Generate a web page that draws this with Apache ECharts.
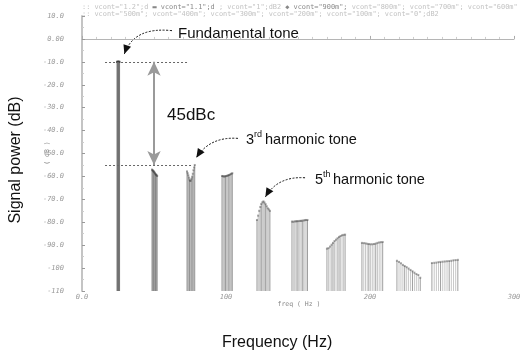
<!DOCTYPE html>
<html><head><meta charset="utf-8">
<script src="https://cdn.jsdelivr.net/npm/echarts@6/dist/echarts.min.js"></script>
<style>html,body{margin:0;padding:0;background:#fff}#c{width:521px;height:357px}</style>
</head><body><div id="c"></div>
<script>
// Traces ordered by fundamental frequency (left to right inside each cluster)
const traceNames = ['0','100m','200m','300m','400m','500m','600m','700m','800m','900m','1','1.1','1.2'];
const fundamentalHz = [24.30, 24.46, 24.61, 24.76, 24.90, 25.05, 25.20, 25.35, 25.50, 25.65, 25.80, 25.95, 26.10];
const harmonicOrder = [1, 2, 3, 4, 5, 6, 7, 8, 9, 10];
// Peak level (dB) of each harmonic, one value per trace
const harm1Db  = [-10.0,-10.0,-10.0,-10.0,-10.0,-10.0,-10.0,-10.0,-10.0,-10.0,-10.0,-10.0,-10.0];
const harm2Db  = [-57.0,-57.3,-57.4,-57.7,-57.9,-58.0,-58.4,-58.6,-59.0,-59.2,-59.3,-59.6,-59.8];
const harm3Db  = [-57.8,-58.6,-59.5,-60.5,-61.4,-62.0,-61.8,-61.0,-60.1,-58.8,-57.3,-56.1,-55.0];
const harm4Db  = [-59.8,-59.9,-60.0,-60.0,-59.9,-59.8,-59.7,-59.6,-59.4,-59.3,-59.0,-58.8,-58.6];
const harm5Db  = [-79.0,-77.1,-75.0,-73.3,-72.0,-71.3,-70.9,-71.4,-72.1,-73.0,-73.9,-74.4,-75.0];
const harm6Db  = [-79.7,-79.8,-79.6,-79.6,-79.5,-79.5,-79.4,-79.4,-79.3,-79.2,-79.1,-79.0,-79.0];
const harm7Db  = [-91.5,-91.3,-90.6,-89.8,-89.0,-88.2,-87.6,-87.0,-86.4,-86.0,-85.7,-85.5,-85.4];
const harm8Db  = [-89.0,-89.1,-89.2,-89.4,-89.5,-89.6,-89.6,-89.5,-89.3,-89.0,-88.8,-88.7,-88.6];
const harm9Db  = [-96.8,-97.3,-97.9,-98.6,-99.1,-99.6,-100.2,-100.8,-101.4,-102.0,-102.6,-103.0,-104.2];
const harm10Db = [-97.8,-97.7,-97.6,-97.4,-97.3,-97.2,-97.1,-97.0,-96.9,-96.8,-96.6,-96.5,-96.4];
const harmonicsDb = [harm1Db, harm2Db, harm3Db, harm4Db, harm5Db, harm6Db, harm7Db, harm8Db, harm9Db, harm10Db];

const yMin = -110, yMax = 10, xMin = 0, xMax = 300;

// Annotation arrows in data coordinates: [start, control, end] as [Hz, dB]
const curvedArrows = [
  [[62.5, 3.6], [36.0, 5.4], [29.4, -6.6]],
  [[108.3, -43.4], [89.0, -42.5], [79.4, -51.8]],
  [[154.9, -60.6], [136.0, -59.8], [127.3, -69.0]]
];

const chart = echarts.init(document.getElementById('c'), null, {renderer: 'canvas'});

const traceSeries = traceNames.map((name, i) => ({
  type: 'custom',
  name: 'vcont=' + name,
  silent: true,
  animation: false,
  data: harmonicOrder.map((k, hi) => [k * fundamentalHz[i], harmonicsDb[hi][i]]),
  renderItem: function (params, api) {
    const top = api.coord([api.value(0), api.value(1)]);
    const bot = api.coord([api.value(0), yMin]);
    const dark = (i % 4 === 0);
    return {type: 'group', children: [
      {type: 'line', shape: {x1: top[0], y1: top[1], x2: bot[0], y2: bot[1]},
        style: {stroke: dark ? 'rgba(80,80,80,0.55)' : 'rgba(110,110,110,0.38)', lineWidth: 1}},
      {type: 'rect', shape: {x: top[0] - 1, y: top[1] - 1, width: 2, height: 2},
        style: {fill: 'rgba(60,60,60,0.45)'}}
    ]};
  }
}));

const annotationSeries = [
  { type: 'line', data: [], silent: true, animation: false,
    markLine: { silent: true, animation: false, symbol: ['none', 'none'],
      label: {show: false},
      lineStyle: {type: [2, 2], color: '#666', width: 1},
      data: [
        [{coord: [16, -10]}, {coord: [73, -10]}],
        [{coord: [16, -55]}, {coord: [76, -55]}]
      ]}},
  { type: 'line', data: [], silent: true, animation: false,
    markLine: { silent: true, animation: false, symbol: ['arrow', 'arrow'], symbolSize: [10, 14],
      label: {show: false},
      lineStyle: {type: 'solid', color: '#9a9a9a', width: 2},
      data: [ [{coord: [50, -10]}, {coord: [50, -55]}] ]}}
];

const txt = (x, y, s, size, extra) => Object.assign({
  type: 'text', x: x, y: y, silent: true,
  style: Object.assign({text: s, fontFamily: 'Liberation Sans, Arial, sans-serif', fontSize: size, fill: '#111'}, extra && extra.style)
}, extra && extra.el);

const baseGraphics = [
  { type: 'text', x: 82, y: 4, silent: true, style: {
    text: '{a|:: vcont="1.2";d }{b|▬ vcont="1.1";d}{a| ; vcont="1";dB2 }{b|◆ vcont="900m";}{a| vcont="800m"; vcont="700m"; vcont="600m"}',
    rich: {a: {fontFamily: 'DejaVu Sans Mono', fontSize: 6.9, fill: '#c2c2c2'}, b: {fontFamily: 'DejaVu Sans Mono', fontSize: 6.9, fill: '#888'}}}},
  { type: 'text', x: 82, y: 11, silent: true, style: {
    text: ':: vcont="500m"; vcont="400m"; vcont="300m"; vcont="200m"; vcont="100m"; vcont="0";dB2',
    fontFamily: 'DejaVu Sans Mono', fontSize: 6.9, fill: '#c2c2c2'}},
  txt(178, 26, 'Fundamental tone', 15),
  txt(167, 107, '45dBc', 17),
  txt(246, 132, '3', 14.5),
  txt(254, 130, 'rd', 9),
  txt(265, 132, 'harmonic tone', 14.5),
  txt(315, 172, '5', 14.5),
  txt(323, 170, 'th', 9),
  txt(333, 172, 'harmonic tone', 14.5),
  txt(222, 335, 'Frequency (Hz)', 16),
  txt(299, 301, 'freq ( Hz )', 6.5, {style: {fill: '#888', align: 'center', fontFamily: 'DejaVu Sans Mono'}}),
  txt(16, 160, 'Signal power (dB)', 16, {style: {align: 'center', verticalAlign: 'middle'}, el: {rotation: Math.PI / 2}}),
  txt(47, 153, '( dB )', 6.5, {style: {fill: '#888', align: 'center', verticalAlign: 'middle', fontFamily: 'DejaVu Sans Mono'}, el: {rotation: Math.PI / 2}})
];

chart.setOption({
  animation: false,
  backgroundColor: '#fff',
  grid: {left: 82, right: 7, top: 16, bottom: 66, outerBoundsMode: 'none', containLabel: false},
  xAxis: {
    type: 'value', min: xMin, max: xMax, interval: 100,
    axisLine: {show: true, lineStyle: {color: '#b5b5b5', width: 1}},
    axisTick: {show: true, inside: true, length: 3, lineStyle: {color: '#aaa'}},
    minorTick: {show: true, splitNumber: 10, length: 2, lineStyle: {color: '#ccc'}},
    splitLine: {show: false},
    axisLabel: {color: '#999', fontSize: 7, fontStyle: 'italic', fontFamily: 'DejaVu Sans Mono', margin: 3,
      formatter: v => v === 0 ? '0.0' : String(v)}
  },
  yAxis: {
    type: 'value', min: yMin, max: yMax, interval: 10,
    axisLine: {show: true, onZero: false, lineStyle: {color: '#c4c4c4', width: 2}},
    axisTick: {show: true, inside: true, length: 3, lineStyle: {color: '#999'}},
    minorTick: {show: true, splitNumber: 2, length: 2, lineStyle: {color: '#ccc'}},
    splitLine: {show: false},
    axisLabel: {color: '#999', fontSize: 7, fontStyle: 'italic', fontFamily: 'DejaVu Sans Mono', margin: 18,
      formatter: v => v === 0 ? '0.00' : (Math.abs(v) >= 100 ? String(v) : v.toFixed(1))}
  },
  series: traceSeries.concat(annotationSeries),
  graphic: baseGraphics
});

// Curved dashed pointer arrows, positioned through the chart's own coordinate conversion
const arrowGraphics = [];
curvedArrows.forEach(a => {
  const p = a.map(c => chart.convertToPixel({gridIndex: 0}, c));
  arrowGraphics.push({type: 'bezierCurve', silent: true,
    shape: {x1: p[0][0], y1: p[0][1], cpx1: p[1][0], cpy1: p[1][1], x2: p[2][0], y2: p[2][1]},
    style: {stroke: '#111', lineWidth: 1, lineDash: [2, 1.5], fill: null}});
  const dx = p[2][0] - p[1][0], dy = p[2][1] - p[1][1];
  const L = Math.sqrt(dx * dx + dy * dy), ux = dx / L, uy = dy / L;
  const len = 9, hw = 4;
  const bx = p[2][0] - ux * len, by = p[2][1] - uy * len;
  arrowGraphics.push({type: 'polygon', silent: true,
    shape: {points: [[p[2][0], p[2][1]], [bx - uy * hw, by + ux * hw], [bx + uy * hw, by - ux * hw]]},
    style: {fill: '#111'}});
});
chart.setOption({graphic: baseGraphics.concat(arrowGraphics)}, {replaceMerge: ['graphic']});
</script></body></html>
